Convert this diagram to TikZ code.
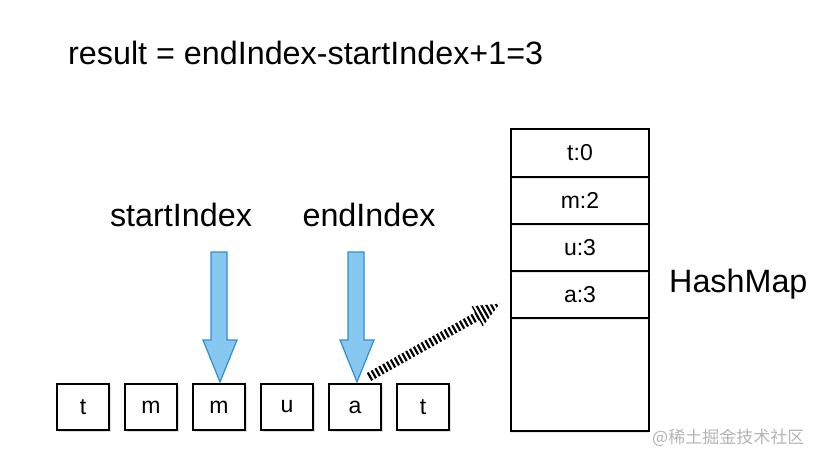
\documentclass[tikz,border=0pt]{standalone}
\usepackage{fontspec}
\setmainfont{Liberation Sans}
\newfontfamily\cjk{Noto Sans CJK SC}
\usetikzlibrary{shadows}
\definecolor{arrfill}{HTML}{86C8F0}
\definecolor{arrdraw}{HTML}{2F8ED5}
\definecolor{wmark}{HTML}{B4B4B4}
\tikzset{
  bigtext/.style={font=\fontsize{32.3}{36}\selectfont, anchor=base, inner sep=0pt},
  cellbox/.style={draw=black, line width=1.5pt, fill=white, minimum width=52pt, minimum height=46pt, inner sep=0pt, font=\fontsize{23}{26}\selectfont,
    drop shadow={shadow xshift=1.5pt, shadow yshift=-1.5pt, opacity=0.25}},
  mapcell/.style={draw=black, line width=1.5pt, fill=white, minimum width=138pt, inner sep=0pt, font=\fontsize{23}{26}\selectfont,
    drop shadow={shadow xshift=0pt, shadow yshift=-2pt, opacity=0.2}},
  bluearrow/.style={fill=arrfill, draw=arrdraw, line width=1.2pt, line join=miter},
}
\begin{document}
\begin{tikzpicture}[x=1pt,y=-1pt]
\useasboundingbox (0,0) rectangle (822,460);

\node[bigtext, anchor=base west] (res) at (68,65) {result = endIndex-startIndex+1=3};
\node[bigtext] (st) at (181,226) {startIndex};
\node[bigtext] (en) at (369,226) {endIndex};
\node[bigtext, anchor=base west] (hm) at (669,292) {HashMap};

% bottom row
\foreach \i/\l/\x in {1/t/83, 2/m/151, 3/m/219, 4/u/287, 5/a/355, 6/t/423}{
  \node[cellbox] (b\i) at (\x,407) {\l};
}

% hashmap column
\node[mapcell, minimum height=113pt] (h5) at (580,374.5) {};
\node[mapcell, minimum height=47pt] (h4) at (580,294.5) {a:3};
\node[mapcell, minimum height=47pt] (h3) at (580,247.5) {u:3};
\node[mapcell, minimum height=47pt] (h2) at (580,200.5) {m:2};
\node[mapcell, minimum height=48pt] (h1) at (580,153) {t:0};

% blue arrows
\draw[bluearrow] (211,252) -- (227,252) -- (227,340) -- (237,340) -- (220,382) -- (203,340) -- (211,340) -- cycle;
\draw[bluearrow] (348,252) -- (364,252) -- (364,340) -- (374,340) -- (357,382) -- (340,340) -- (348,340) -- cycle;

% striped arrow
\coordinate (sa) at (369,377);
\begin{scope}[shift={(sa)}, rotate=29.3]
  \begin{scope}
    \clip (0,-4.5) -- (124,-4.5) -- (124,-11.5) -- (150,0) -- (124,11.5) -- (124,4.5) -- (0,4.5) -- cycle;
    \draw[line width=26pt, dash pattern=on 2.2pt off 2.2pt] (0,0) -- (151,0);
  \end{scope}
\end{scope}

\node[font=\cjk\fontsize{17}{20}\selectfont, text=wmark, anchor=base west, inner sep=0pt] (wm) at (652,443) {@稀土掘金技术社区};
\end{tikzpicture}
\end{document}
